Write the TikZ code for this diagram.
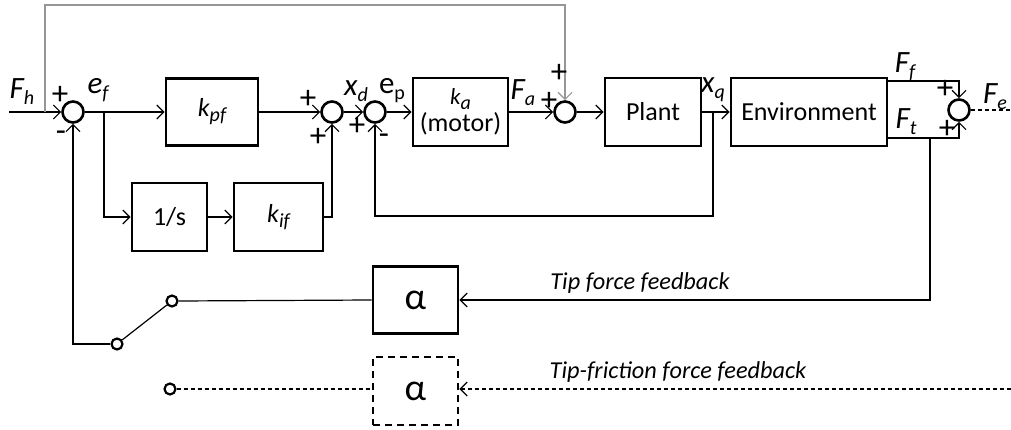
\documentclass[tikz,border=0pt]{standalone}
\usepackage{fontspec}
\setmainfont{Carlito}
\usetikzlibrary{arrows.meta}
\definecolor{fbgray}{RGB}{150,150,150}
\newcommand\lsub[1]{\raisebox{-0.4ex}{\fontsize{20}{20}\selectfont #1}}
\begin{document}
\begin{tikzpicture}[x=1pt,y=-1pt,
 ln/.style={line width=1.2pt},
 arr/.style={ln, -{Straight Barb[length=7pt,width=14pt,line width=1.2pt]}},
 dsh/.style={ln, dash pattern=on 4pt off 3pt},
 blk/.style={draw, line width=2.7pt, inner sep=0pt, align=center, font=\fontsize{26}{30}\selectfont},
 sumc/.style={draw, circle, line width=2.6pt, minimum size=21pt, inner sep=0pt},
 contact/.style={draw, circle, line width=2.2pt, minimum size=11pt, inner sep=0pt},
 lab/.style={font=\fontsize{31}{34}\selectfont\itshape, inner sep=0pt},
 sgn/.style={font=\fontsize{33}{34}\selectfont, inner sep=0pt},
 fbt/.style={font=\fontsize{24.3}{28}\selectfont\itshape, inner sep=0pt},
]
\useasboundingbox (0,0) rectangle (1011,430);

% blocks
\node[blk, minimum width=92pt, minimum height=67pt] (kpf) at (212,112) {\itshape k\lsub{pf}};
\node[blk, minimum width=75pt, minimum height=68pt] (int) at (169.5,217) {1/s};
\node[blk, minimum width=89pt, minimum height=68pt] (kif) at (278.5,217) {\itshape k\lsub{if}};
\node[blk, minimum width=95pt, minimum height=68pt] (ka) at (460.5,112) {{\fontsize{23}{26}\selectfont\itshape k\lsub{a}}\\[-3pt](motor)};
\node[blk, minimum width=96pt, minimum height=68pt] (plant) at (653,112) {Plant};
\node[blk, minimum width=156pt, minimum height=68pt] (env) at (809,112) {Environment};
\node[blk, minimum width=85pt, minimum height=67pt, font=\fontsize{38}{40}\selectfont] (alpha1) at (415.5,300) {α};
\node[blk, minimum width=85pt, minimum height=68pt, dash pattern=on 7pt off 5pt, font=\fontsize{38}{40}\selectfont] (alpha2) at (415.5,391) {α};

% summing junctions
\node[sumc] (c1) at (73,112) {};
\node[sumc] (c2) at (332,112) {};
\node[sumc] (c4) at (375,112) {};
\node[sumc] (c3) at (565,112) {};
\node[sumc] (c5) at (959,110) {};

% switch contacts
\node[contact] (sw1) at (172,301) {};
\node[contact] (sw2) at (117,344) {};
\node[contact] (sw3) at (170,389) {};

% coordinates
\coordinate (fin) at (9,112);
\coordinate (jtop) at (45,112);
\coordinate (top) at (45,5);
\coordinate (jef) at (104,112);
\coordinate (jxq) at (713,112);
\coordinate (fbq) at (713,216);
\coordinate (ffo) at (887,81);
\coordinate (fto) at (887,138);
\coordinate (jft) at (930,138);
\coordinate (fe) at (1011,110);
\coordinate (tff) at (1011,389);

% connectors
\draw[arr] (fin) -- (c1);
\draw[arr, fbgray] (jtop) -- (top) -| (c3.north);
\draw[arr] (c1) -- (kpf);
\draw[arr] (jef) |- (int);
\draw[arr] (int) -- (kif);
\draw[arr] (kif.east) -| (c2.south);
\draw[arr, line width=1.8pt] (kpf) -- (c2);
\draw[arr] (c2) -- (c4);
\draw[arr] (c4) -- (ka);
\draw[arr] (ka) -- (c3);
\draw[arr] (c3) -- (plant);
\draw[arr] (plant) -- (env);
\draw[arr] (jxq) -- (fbq) -| (c4.south);
\draw[arr] (ffo) -| (c5.north);
\draw[arr] (fto) -| (c5.south);
\draw[arr] (jft) |- (alpha1.east);
\draw[dsh] (c5) -- (fe);
\draw[ln] (alpha1.west) -- (sw1.east);
\draw[ln] (sw2) -- (sw1);
\draw[arr] (sw2.west) -| (c1.south);
\draw[dsh] (sw3.east) -- (alpha2.west |- sw3);
\draw[dsh, -{Straight Barb[length=7pt,width=14pt,line width=1.2pt]}] (tff) -- (alpha2.east |- tff);

% labels
\node[lab] (lFh) at (22,92) {F\lsub{h}};
\node[lab] (lef) at (98,90) {e\lsub{f}};
\node[lab] (lxd) at (356,91) {x\lsub{d}};
\node[lab, font=\fontsize{31}{34}\selectfont] (lep) at (392,91) {e\lsub{p}};
\node[lab] (lFa) at (523,93) {F\lsub{a}};
\node[lab] (lxq) at (713,90) {x\lsub{q}};
\node[lab] (lFf) at (905,67) {F\lsub{f}};
\node[lab] (lFt) at (906,122) {F\lsub{t}};
\node[lab] (lFe) at (995,97) {F\lsub{e}};

% signs
\node[sgn] (s1a) at (60,95) {+};
\node[sgn] (s1b) at (61,136) {-};
\node[sgn] (s2a) at (308,99) {+};
\node[sgn] (s2b) at (318,137) {+};
\node[sgn] (s4a) at (357,126) {+};
\node[sgn] (s4b) at (384,139) {-};
\node[sgn] (s3a) at (549,101) {+};
\node[sgn] (s3b) at (559,73) {+};
\node[sgn] (s5a) at (945,89) {+};
\node[sgn] (s5b) at (947,129) {+};

% feedback texts
\node[fbt] (ttf) at (640,283) {Tip force feedback};
\node[fbt] (ttff) at (678,372) {Tip-friction force feedback};
\end{tikzpicture}
\end{document}
